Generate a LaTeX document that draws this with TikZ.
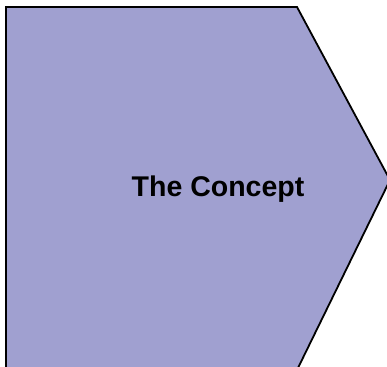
\documentclass[tikz,border=0pt]{standalone}
\usepackage{fontspec}
\setmainfont{Liberation Sans}
\definecolor{lav}{RGB}{160,160,208}
\tikzset{arrowshape/.style={fill=lav,draw=black,line width=1.8pt,line join=miter},
  label/.style={font=\fontsize{28.5}{34}\selectfont\bfseries,inner sep=0pt}}
\begin{document}
\begin{tikzpicture}[x=1pt,y=-1pt]
\useasboundingbox (0,0) rectangle (387,366);
\begin{scope}
\clip (0,0) rectangle (387,366);
\draw[arrowshape] (6,7) -- (297,7) -- (390,180) -- (297,370) -- (6,370) -- cycle;
\end{scope}
\node[label,anchor=base] (t) at (218,196) {The Concept};
\end{tikzpicture}
\end{document}
